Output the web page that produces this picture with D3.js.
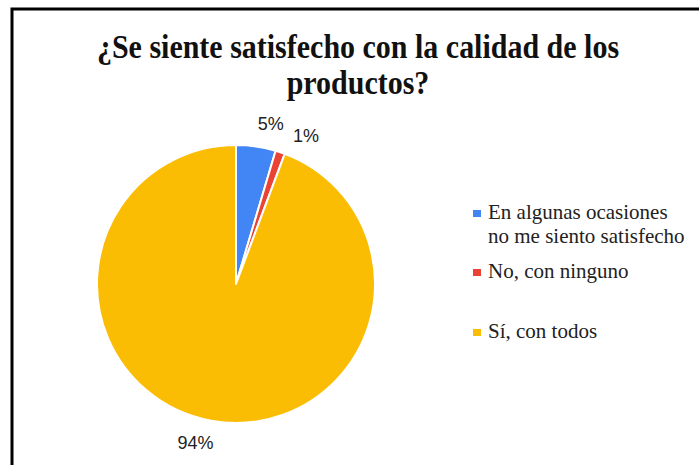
<!DOCTYPE html>
<html>
<head>
<meta charset="utf-8">
<script src="https://cdn.jsdelivr.net/npm/d3@7"></script>
<style>
  body { margin: 0; background: #fff; }
  svg { display: block; }
</style>
</head>
<body>
<div id="chart"></div>
<script>
const categories = ["En algunas ocasiones no me siento satisfecho", "No, con ninguno", "Sí, con todos"];
const values = [4.6, 1.1, 94.3];
const pctLabels = ["5%", "1%", "94%"];
const legendLines = [["En algunas ocasiones", "no me siento satisfecho"], ["No, con ninguno"], ["Sí, con todos"]];
const titleLines = ["¿Se siente satisfecho con la calidad de los", "productos?"];
const colors = ["#4285F4", "#EA4335", "#FBBC04"];

const W = 699, H = 465;
const cx = 236, cy = 284, R = 139;

const svg = d3.select("#chart").append("svg")
  .attr("width", W)
  .attr("height", H);

// frame of the chart box (goes past right/bottom edge of the crop)
svg.append("rect")
  .attr("x", 12)
  .attr("y", 9)
  .attr("width", W + 20)
  .attr("height", H + 20)
  .attr("fill", "#fff")
  .attr("stroke", "#000")
  .attr("stroke-width", 3);

// title, slightly stretched vertically like the source image
svg.append("g").selectAll("text")
  .data(titleLines)
  .join("text")
  .attr("transform", (d, i) => `translate(358,${58 + i * 36}) scale(1,1.1)`)
  .attr("text-anchor", "middle")
  .attr("font-family", "'Liberation Serif', 'Times New Roman', serif")
  .attr("font-weight", "bold")
  .attr("font-size", 30)
  .attr("fill", "#111")
  .text(d => d);

const pie = d3.pie().sort(null).value(d => d);
const arcs = pie(values);
const arc = d3.arc().innerRadius(0).outerRadius(R);

const g = svg.append("g").attr("transform", `translate(${cx},${cy})`);

g.selectAll("path")
  .data(arcs)
  .join("path")
  .attr("d", arc)
  .attr("fill", (d, i) => colors[i])
  .attr("stroke", "#fff")
  .attr("stroke-width", 2)
  .attr("stroke-linejoin", "round");

// percent labels outside the pie, spread apart when slices are thin
const labelR = 164;
const shift = 4 * Math.PI / 180;
const minSep = 13 * Math.PI / 180;
let prevA = -Infinity;
const labelPos = arcs.map(d => {
  let a = (d.startAngle + d.endAngle) / 2 + shift;
  if (a < prevA + minSep) a = prevA + minSep;
  prevA = a;
  return [Math.sin(a) * labelR, -Math.cos(a) * labelR];
});

g.selectAll("text.pct")
  .data(arcs)
  .join("text")
  .attr("class", "pct")
  .attr("x", (d, i) => labelPos[i][0])
  .attr("y", (d, i) => labelPos[i][1])
  .attr("text-anchor", "middle")
  .attr("dominant-baseline", "central")
  .attr("font-family", "'Liberation Sans', Arial, sans-serif")
  .attr("font-size", 18)
  .attr("fill", "#222")
  .text((d, i) => pctLabels[i]);

// legend
const legendY = [219, 278, 338];
const legend = svg.append("g").attr("transform", "translate(473,0)");
const items = legend.selectAll("g")
  .data(categories)
  .join("g")
  .attr("transform", (d, i) => `translate(0,${legendY[i]})`);

items.append("rect")
  .attr("x", 0)
  .attr("y", -9)
  .attr("width", 8)
  .attr("height", 7)
  .attr("fill", (d, i) => colors[i]);

items.each(function (d, i) {
  d3.select(this).selectAll("text")
    .data(legendLines[i])
    .join("text")
    .attr("x", 15)
    .attr("y", (t, j) => j * 24)
    .attr("font-family", "'Liberation Serif', 'Times New Roman', serif")
    .attr("font-size", 21)
    .attr("fill", "#222")
    .text(t => t);
});
</script>
</body>
</html>
